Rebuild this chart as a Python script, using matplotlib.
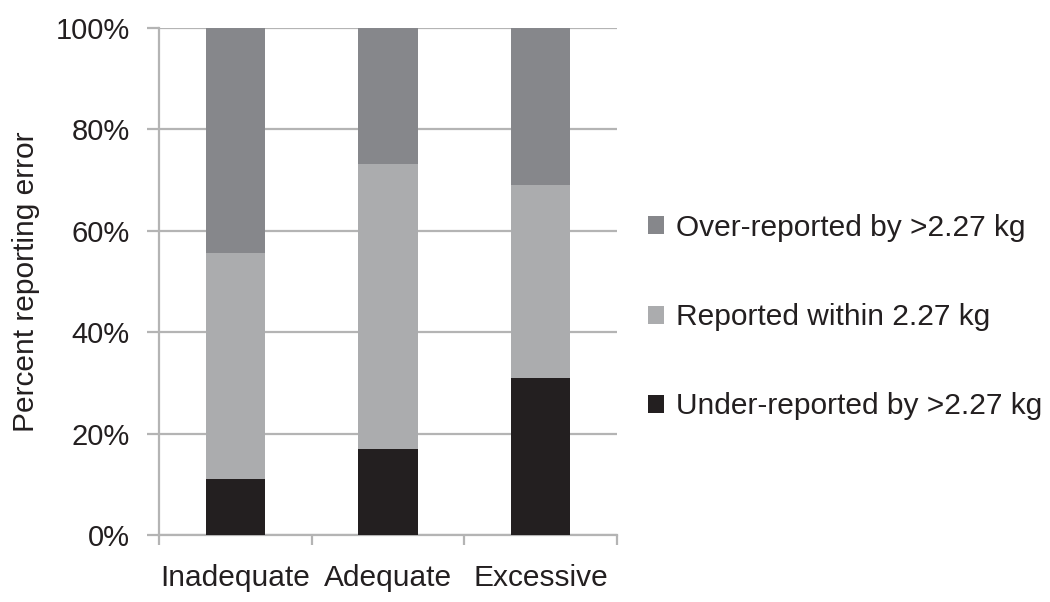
import matplotlib
matplotlib.use("Agg")
import matplotlib.pyplot as plt
import numpy as np

categories = ["Inadequate", "Adequate", "Excessive"]
under = [11.0, 17.0, 31.0]
within = [44.6, 56.2, 38.0]
over = [44.4, 26.8, 31.0]
series_labels = ["Under-reported by >2.27 kg", "Reported within 2.27 kg", "Over-reported by >2.27 kg"]
yticks = [0, 20, 40, 60, 80, 100]

colors = ["#231f20", "#abacae", "#86878b"]

plt.rcParams['font.family'] = ['Liberation Sans', 'DejaVu Sans']

fig = plt.figure(figsize=(10.5, 6.02), dpi=100)
ax = fig.add_axes([0.1514, 0.1113, 0.4362, 0.8422])

x = np.arange(len(categories))
bw = 0.39
bottoms = np.zeros(len(categories))
handles = []
for vals, c, lab in zip([under, within, over], colors, series_labels):
    h = ax.bar(x, vals, bw, bottom=bottoms, color=c, label=lab, zorder=3)
    handles.append(h)
    bottoms += np.array(vals)

ax.set_xlim(-0.5, 2.5)
ax.set_ylim(0, 100)
ax.set_yticks(yticks)
ax.set_yticklabels([f"{t}%" for t in yticks], fontsize=21, color="#231f20")
ax.yaxis.grid(True, color="#b4b4b4", linewidth=1.6, zorder=0)
ax.set_axisbelow(True)

ax.set_xticks(x)
ax.set_xticklabels(categories, fontsize=21.5, color="#231f20")
ax.tick_params(axis='x', length=0, pad=21)
ax.set_xticks([-0.5, 0.5, 1.5, 2.5], minor=True)
ax.tick_params(axis='x', which='minor', length=7, color="#b4b4b4", width=1.6)
ax.tick_params(axis='y', length=9, color="#b4b4b4", width=1.6, pad=12)

for s in ['top', 'right']:
    ax.spines[s].set_visible(False)
for s in ['left', 'bottom']:
    ax.spines[s].set_color("#b4b4b4")
    ax.spines[s].set_linewidth(1.6)

ax.set_ylabel("Percent reporting error", fontsize=21.5, color="#231f20", labelpad=11)

leg = fig.legend(handles[::-1], series_labels[::-1], loc='center left',
                 bbox_to_anchor=(0.617, 0.473), frameon=False, fontsize=21.5,
                 labelspacing=2.05, handlelength=0.55, handleheight=0.55,
                 handletextpad=0.4, borderpad=0, borderaxespad=0)
for t in leg.get_texts():
    t.set_color("#231f20")

fig.savefig("out.png", dpi=100)
